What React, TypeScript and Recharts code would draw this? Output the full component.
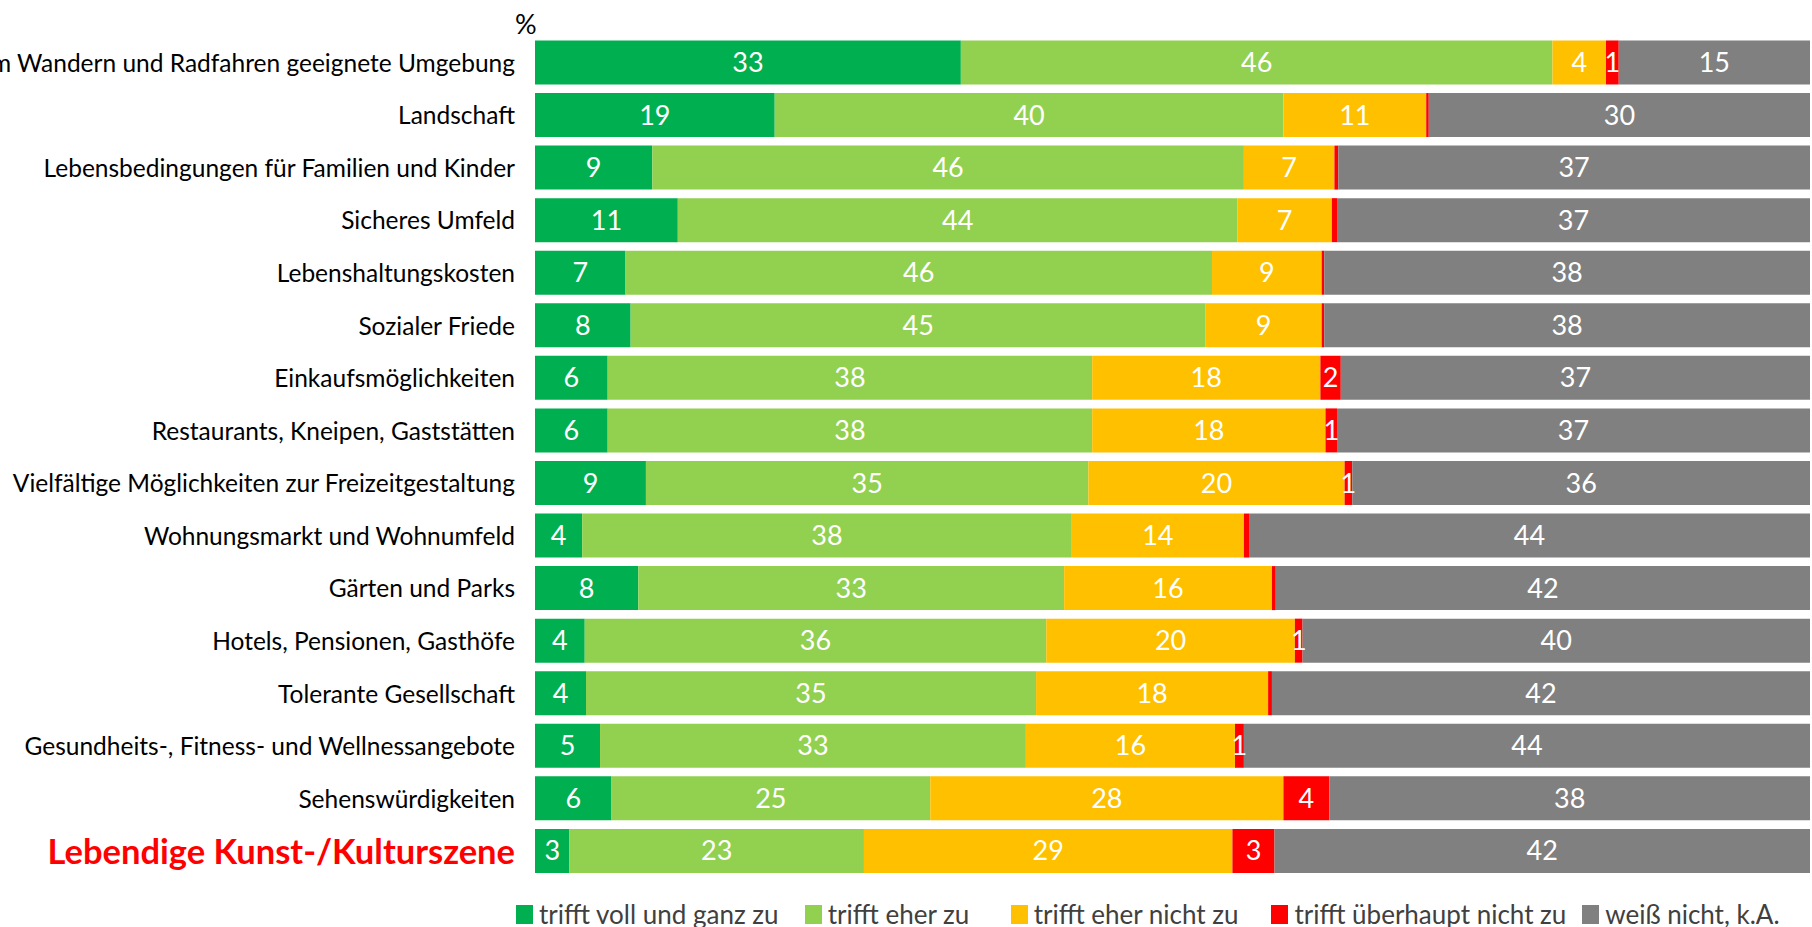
import { BarChart, Bar, XAxis, YAxis, Legend, LabelList } from 'recharts';

const categories = [
  'Zum Wandern und Radfahren geeignete Umgebung',
  'Landschaft',
  'Lebensbedingungen für Familien und Kinder',
  'Sicheres Umfeld',
  'Lebenshaltungskosten',
  'Sozialer Friede',
  'Einkaufsmöglichkeiten',
  'Restaurants, Kneipen, Gaststätten',
  'Vielfältige Möglichkeiten zur Freizeitgestaltung',
  'Wohnungsmarkt und Wohnumfeld',
  'Gärten und Parks',
  'Hotels, Pensionen, Gasthöfe',
  'Tolerante Gesellschaft',
  'Gesundheits-, Fitness- und Wellnessangebote',
  'Sehenswürdigkeiten',
  'Lebendige Kunst-/Kulturszene',
];

const vollUndGanz = [33.4, 18.8, 9.2, 11.2, 7.1, 7.5, 5.7, 5.7, 8.7, 3.7, 8.1, 3.9, 4.0, 5.1, 6.0, 2.7];
const eherZu = [46.4, 39.9, 46.4, 43.9, 46.0, 45.1, 38.0, 38.0, 34.7, 38.4, 33.4, 36.2, 35.3, 33.4, 25.0, 23.1];
const eherNicht = [4.2, 11.2, 7.1, 7.4, 8.6, 9.1, 17.9, 18.3, 20.1, 13.5, 16.3, 19.5, 18.2, 16.4, 27.7, 28.9];
const ueberhauptNicht = [1.0, 0.2, 0.3, 0.4, 0.2, 0.2, 1.6, 0.9, 0.6, 0.4, 0.3, 0.6, 0.3, 0.7, 3.6, 3.3];
const weissNicht = [15.0, 29.9, 37.0, 37.1, 38.1, 38.1, 36.8, 37.1, 35.9, 44.0, 41.9, 39.8, 42.2, 44.4, 37.7, 42.0];

const highlighted = 'Lebendige Kunst-/Kulturszene';

const series = [
  { key: 'voll', name: 'trifft voll und ganz zu', color: '#00B050', values: vollUndGanz },
  { key: 'eher', name: 'trifft eher zu', color: '#92D050', values: eherZu },
  { key: 'eherNicht', name: 'trifft eher nicht zu', color: '#FFC000', values: eherNicht },
  { key: 'nicht', name: 'trifft überhaupt nicht zu', color: '#FF0000', values: ueberhauptNicht },
  { key: 'weiss', name: 'weiß nicht, k.A.', color: '#808080', values: weissNicht },
];

// legend entry widths (Excel spaces them unevenly)
const legendWidths = [289, 206, 261, 311, 230];

const data = categories.map((cat, i) => {
  const row: Record<string, string | number> = { cat };
  series.forEach((s) => {
    row[s.key] = s.values[i];
  });
  return row;
});

const FONT = 'Lato, "Open Sans", sans-serif';

const fmt = (v: any) => {
  const r = Math.round(Number(v));
  return r > 0 ? String(r) : '';
};

const CategoryTick = (props: any) => {
  const { x, y, payload } = props;
  const hl = payload.value === highlighted;
  return (
    <text
      x={x - 12}
      y={y}
      textAnchor="end"
      dominantBaseline="central"
      fontFamily={FONT}
      fontSize={hl ? 34.5 : 24.5}
      fontWeight={hl ? 700 : 400}
      fill={hl ? '#FF0000' : '#000'}
    >
      {payload.value}
    </text>
  );
};

const LegendContent = () => (
  <div style={{ display: 'flex', alignItems: 'center', fontFamily: FONT, fontSize: 26, color: '#404040', whiteSpace: 'nowrap' }}>
    {series.map((s, i) => (
      <div key={s.key} style={{ display: 'flex', alignItems: 'center', width: legendWidths[i] }}>
        <span style={{ display: 'inline-block', width: 17, height: 19, background: s.color, marginRight: 6 }} />
        <span>{s.name}</span>
      </div>
    ))}
  </div>
);

export default function App() {
  return (
    <div style={{ position: 'absolute', left: 0, top: 0, width: 1812, height: 927, background: '#fff' }}>
      <div style={{ position: 'absolute', left: 515, top: 7, fontFamily: FONT, fontSize: 27, color: '#000' }}>%</div>
      <BarChart
        width={1812}
        height={927}
        data={data}
        layout="vertical"
        margin={{ top: 36, right: 2, bottom: 18, left: 0 }}
        barCategoryGap="8.5%"
      >
        <XAxis type="number" domain={[0, 100]} hide />
        <YAxis
          type="category"
          dataKey="cat"
          width={535}
          axisLine={false}
          tickLine={false}
          interval={0}
          tick={<CategoryTick />}
        />
        <Legend
          content={<LegendContent />}
          wrapperStyle={{ left: 516, top: 898, width: 1296 }}
        />
        {series.map((s) => (
          <Bar key={s.key} dataKey={s.key} name={s.name} stackId="a" fill={s.color} isAnimationActive={false}>
            <LabelList
              dataKey={s.key}
              position="center"
              formatter={fmt}
              fill="#fff"
              fontFamily={FONT}
              fontSize={27}
            />
          </Bar>
        ))}
      </BarChart>
    </div>
  );
}
